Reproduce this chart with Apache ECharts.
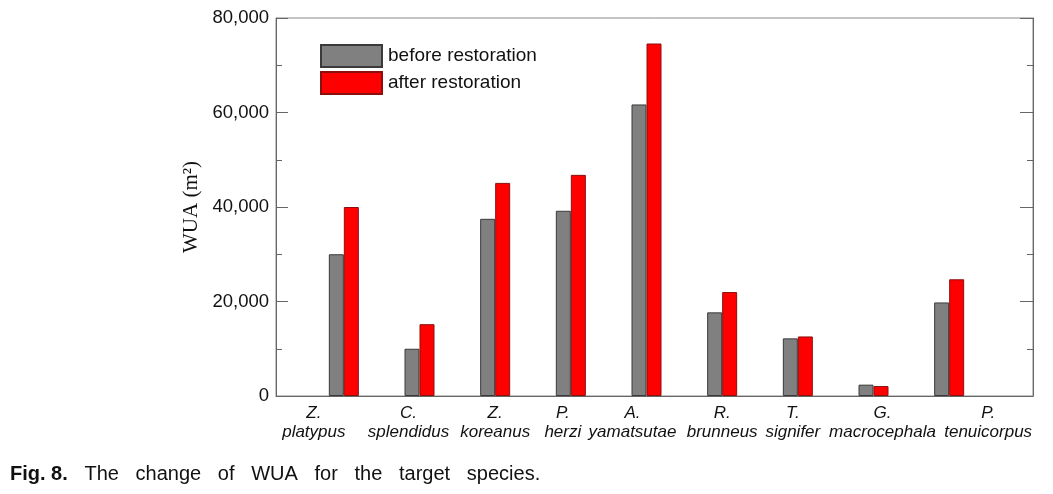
<!DOCTYPE html>
<html><head><meta charset="utf-8">
<script src="https://cdn.jsdelivr.net/npm/echarts@6/dist/echarts.min.js"></script>
<style>html,body{margin:0;padding:0;background:#fff}#c{width:1053px;height:494px}</style>
</head><body><div id="c"></div>
<script>
var genus = ['Z.', 'C.', 'Z.', 'P.', 'A.', 'R.', 'T.', 'G.', 'P.'];
var species = ['platypus', 'splendidus', 'koreanus', 'herzi', 'yamatsutae', 'brunneus', 'signifer', 'macrocephala', 'tenuicorpus'];
var beforeVals = [30000, 10000, 37500, 39200, 61700, 17700, 12200, 2400, 19800];
var afterVals = [40000, 15200, 45100, 46800, 74600, 22000, 12600, 2100, 24700];
var yTicks = [0, 20000, 40000, 60000, 80000];
var seriesNames = ['before restoration', 'after restoration'];

// label horizontal shifts (layout only)
var labelShift = [-30, -11, 0, -8, -14, 0, -5, 9, 39];

var cats = genus.map(function (g, i) { return g + ' ' + species[i]; });
var rich = {};
labelShift.forEach(function (d, i) {
  var pad = d < 0 ? [0, -2 * d, 0, 0] : [0, 0, 0, 2 * d];
  rich['s' + i] = { fontFamily: 'Liberation Sans', fontStyle: 'italic', fontSize: 17, color: '#111', lineHeight: 19, padding: pad, align: 'center' };
});

var chart = echarts.init(document.getElementById('c'));
var yMax = yTicks[yTicks.length - 1];
var yInt = yTicks[1] - yTicks[0];
chart.setOption({
  animation: false,
  title: {
    left: 5, top: 459,
    text: '{b|Fig. 8.}   The   change   of   WUA   for   the   target   species.',
    textStyle: {
      fontFamily: 'Liberation Sans', fontSize: 20, fontWeight: 'normal', color: '#111',
      rich: { b: { fontFamily: 'Liberation Sans', fontSize: 20, fontWeight: 'bold', color: '#111' } }
    }
  },
  legend: {
    orient: 'vertical', left: 320, top: 44, padding: 0, itemWidth: 61, itemHeight: 22, itemGap: 3,
    icon: 'rect', data: seriesNames,
    textStyle: { fontFamily: 'Liberation Sans', fontSize: 19, color: '#111', padding: [0, 0, 0, 1] }
  },
  grid: [
    { left: 276, right: 20, top: 18, bottom: 98, show: true, borderColor: '#888', borderWidth: 1, backgroundColor: 'transparent' },
    { left: 306, right: 66, top: 18, bottom: 98 }
  ],
  xAxis: [
    { gridIndex: 0, type: 'value', min: 0, max: 1, axisLine: { show: true, lineStyle: { color: '#666' } }, axisTick: { show: false }, axisLabel: { show: false }, splitLine: { show: false } },
    { gridIndex: 1, type: 'category', data: cats, axisLine: { show: false }, axisTick: { show: false }, splitLine: { show: false },
      axisLabel: {
        interval: 0, margin: 8,
        formatter: function (v, i) { return '{s' + i + '|' + genus[i] + '}\n{s' + i + '|' + species[i] + '}'; },
        rich: rich
      } }
  ],
  yAxis: [
    { gridIndex: 0, type: 'value', position: 'left', min: 0, max: yMax, interval: yInt,
      name: 'WUA (m²)', nameLocation: 'middle', nameGap: 67,
      nameTextStyle: { fontFamily: 'Liberation Serif', fontSize: 21, color: '#111' },
      axisLine: { show: true, lineStyle: { color: '#666' } },
      axisTick: { show: true, inside: true, length: 12, lineStyle: { color: '#666' } },
      minorTick: { show: true, splitNumber: 2, length: 6, lineStyle: { color: '#666' } },
      splitLine: { show: false },
      axisLabel: { fontFamily: 'Liberation Sans', fontSize: 18.5, color: '#111', margin: 7,
        formatter: function (v) { return v.toLocaleString('en-US'); } } },
    { gridIndex: 0, type: 'value', position: 'right', min: 0, max: yMax, interval: yInt,
      axisLine: { show: true, lineStyle: { color: '#666' } },
      axisTick: { show: true, inside: true, length: 13, lineStyle: { color: '#666' } },
      minorTick: { show: true, splitNumber: 2, length: 6, lineStyle: { color: '#666' } },
      splitLine: { show: false }, axisLabel: { show: false } },
    { gridIndex: 1, type: 'value', min: 0, max: yMax, interval: yInt, show: false }
  ],
  series: [
    { name: seriesNames[0], type: 'bar', xAxisIndex: 1, yAxisIndex: 2, data: beforeVals, barWidth: 15, barGap: '0%',
      itemStyle: { color: '#808080', borderColor: '#3a3a3a', borderWidth: 1 } },
    { name: seriesNames[1], type: 'bar', xAxisIndex: 1, yAxisIndex: 2, data: afterVals, barWidth: 15, barGap: '0%',
      itemStyle: { color: '#ff0000', borderColor: '#8a1010', borderWidth: 1 } }
  ]
});
</script></body></html>
